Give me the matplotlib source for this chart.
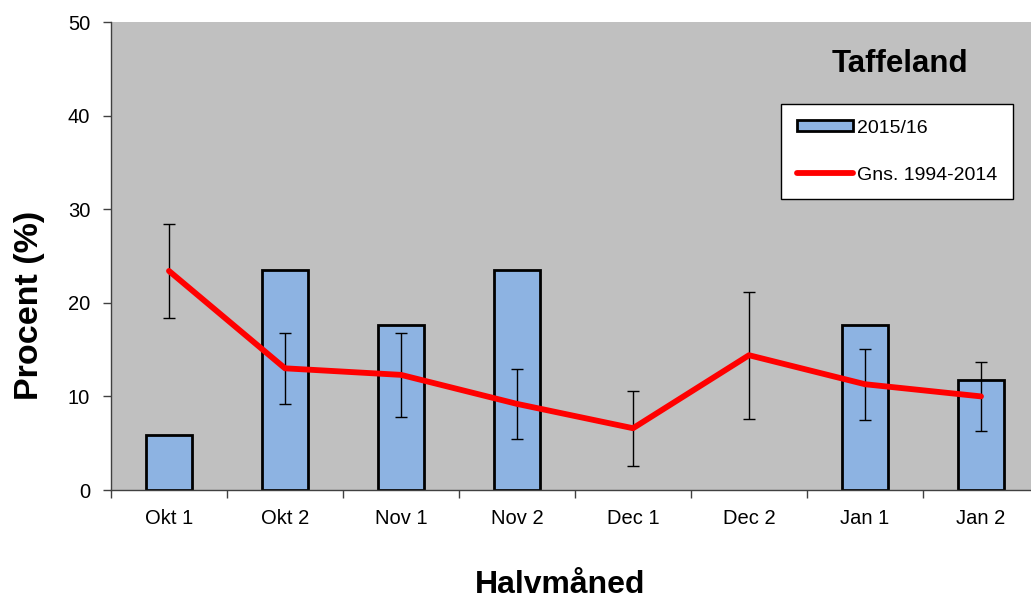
import numpy as np
import matplotlib.pyplot as plt

plt.rcParams['font.family'] = ['Liberation Sans', 'DejaVu Sans']

categories = ["Okt 1", "Okt 2", "Nov 1", "Nov 2", "Dec 1", "Dec 2", "Jan 1", "Jan 2"]
season = [5.9, 23.5, 17.6, 23.5, 0, 0, 17.6, 11.8]
mean_9414 = [23.4, 13.0, 12.3, 9.2, 6.6, 14.4, 11.3, 10.0]
mean_err = [5.0, 3.8, 4.5, 3.7, 4.0, 6.8, 3.8, 3.7]

fig = plt.figure(figsize=(10.31, 5.98), dpi=100)
ax = fig.add_axes([111/1031, 1 - 490/598, 928/1031, 468/598])
ax.set_facecolor("#C0C0C0")

x = np.arange(len(categories))
edges = ["black" if v > 0 else "none" for v in season]
bars = ax.bar(x, season, width=0.4, color="#8DB3E2", edgecolor=edges, linewidth=2,
              label="2015/16", zorder=2)
ax.errorbar(x, mean_9414, yerr=mean_err, fmt="none", ecolor="black",
            elinewidth=1, capsize=4.3, capthick=1, zorder=3)
line, = ax.plot(x, mean_9414, color="red", linewidth=4.2, solid_capstyle="round",
                label="Gns. 1994-2014", zorder=4, clip_on=False)

ax.set_xlim(-0.5, 7.5)
ax.set_ylim(0, 50)
ax.set_yticks([0, 10, 20, 30, 40, 50])
ax.set_xticks(x)
ax.set_xticklabels(categories)
ax.set_xticks(np.arange(-0.5, 8, 1), minor=True)
ax.tick_params(axis="x", which="major", length=0, pad=14, labelsize=14.5)
ax.tick_params(axis="x", which="minor", length=6, width=1, color="#404040")
ax.tick_params(axis="y", length=6, width=1, color="#404040", pad=9, labelsize=14.5)

for s in ["top", "right"]:
    ax.spines[s].set_visible(False)
for s in ["left", "bottom"]:
    ax.spines[s].set_color("#404040")
    ax.spines[s].set_linewidth(1)

ax.set_ylabel("Procent (%)", fontsize=24.5, fontweight="bold", va="center")
ax.yaxis.set_label_coords(-0.088, 0.395)
ax.set_xlabel("Halvmåned", fontsize=23, fontweight="bold", va="center")
ax.xaxis.set_label_coords(0.484, -0.203)

ax.text(0.85, 0.91, "Taffeland", transform=ax.transAxes, fontsize=22.5,
        fontweight="bold", ha="center", va="center")

bar_handle = plt.Rectangle((0, 0), 1, 1, facecolor="#8DB3E2", edgecolor="black", linewidth=2)
leg = fig.legend([bar_handle, line], ["2015/16", "Gns. 1994-2014"],
                 loc="upper left", bbox_to_anchor=(781/1031, 1 - 104/598),
                 fontsize=14, frameon=True, fancybox=False, framealpha=1,
                 edgecolor="black", facecolor="white", borderpad=0.8,
                 labelspacing=1.55, handlelength=2.9, handletextpad=0.2,
                 handleheight=0.5, borderaxespad=0)
leg.get_frame().set_linewidth(1)

fig.savefig("out.png", dpi=100)
